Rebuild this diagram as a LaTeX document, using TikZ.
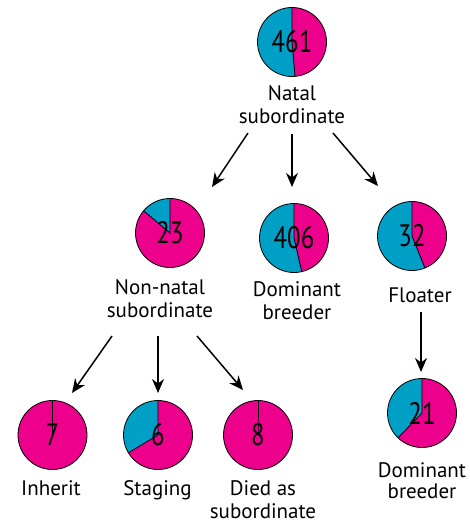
\documentclass[tikz,border=0pt]{standalone}
\usepackage{fontspec}
\setmainfont{PT Sans}
\newfontfamily\numfont[FakeStretch=0.8]{PT Sans}
\usetikzlibrary{arrows.meta}
\definecolor{bluec}{RGB}{0,160,198}
\definecolor{pinkc}{RGB}{236,0,140}
\newcommand\piechart[4]{%
  \begin{scope}[shift={#2}, y=1pt]
    \fill[bluec] (0,0) circle[radius=34.5];
    \fill[pinkc] (0,0) -- (90:34.5) arc[start angle=90, end angle=#3, radius=34.5] -- cycle;
    \draw[divline] (90:34.5) -- (0,0) -- (#3:34.5);
    \node[pienode] (#1) at (0,0) {#4};
  \end{scope}}
\tikzset{
  pienode/.style={circle, draw=black, line width=0.8pt, minimum size=69pt, inner sep=0pt,
    font=\numfont\fontsize{31}{31}\selectfont},
  divline/.style={line width=0.8pt, draw=black},
  lbl/.style={align=center, inner sep=0pt, anchor=base, font=\fontsize{21}{22.5}\selectfont},
  arr/.style={line width=1.5pt, -{Stealth[length=14pt, width=12pt]}}
}
\begin{document}
\begin{tikzpicture}[x=1pt, y=-1pt]
\useasboundingbox (0,0) rectangle (470,524);
\piechart{p461}{(292,42)}{-85}{461}
\piechart{p23}{(170,233)}{-220}{23}
\piechart{p406}{(294,238)}{-77}{406}
\piechart{p32}{(412,236)}{-68}{32}
\piechart{p21}{(422,413)}{-134}{21}
\piechart{p7}{(52.5,435)}{-270}{7}
\piechart{p6}{(158,435)}{-149}{6}
\piechart{p8}{(258,435)}{-270}{8}

\node[lbl] (l461) at (292,123) {Natal\\subordinate};
\node[lbl] (l23) at (160,317) {Non-natal\\subordinate};
\node[lbl] (l406) at (297,319) {Dominant\\breeder};
\node[lbl] (l32) at (420,302) {Floater};
\node[lbl, font=\fontsize{21}{20.5}\selectfont] (l21) at (422,498) {Dominant\\breeder};
\node[lbl] (l7) at (51,495) {Inherit};
\node[lbl] (l6) at (157.5,495) {Staging};
\node[lbl] (l8) at (263,518) {Died as\\subordinate};

\coordinate (a1s) at (248,133); \coordinate (a1e) at (212,187);
\coordinate (a2s) at (292,134); \coordinate (a2e) at (292,187);
\coordinate (a3s) at (333,133); \coordinate (a3e) at (378,186);
\coordinate (b1s) at (112,336); \coordinate (b1e) at (72,393);
\coordinate (b2s) at (158,336); \coordinate (b2e) at (158,393);
\coordinate (b3s) at (197,336); \coordinate (b3e) at (243,390);
\coordinate (c1s) at (421,312); \coordinate (c1e) at (421,372);
\draw[arr] (a1s) -- (a1e);
\draw[arr] (a2s) -- (a2e);
\draw[arr] (a3s) -- (a3e);
\draw[arr] (b1s) -- (b1e);
\draw[arr] (b2s) -- (b2e);
\draw[arr] (b3s) -- (b3e);
\draw[arr] (c1s) -- (c1e);
\end{tikzpicture}
\end{document}
